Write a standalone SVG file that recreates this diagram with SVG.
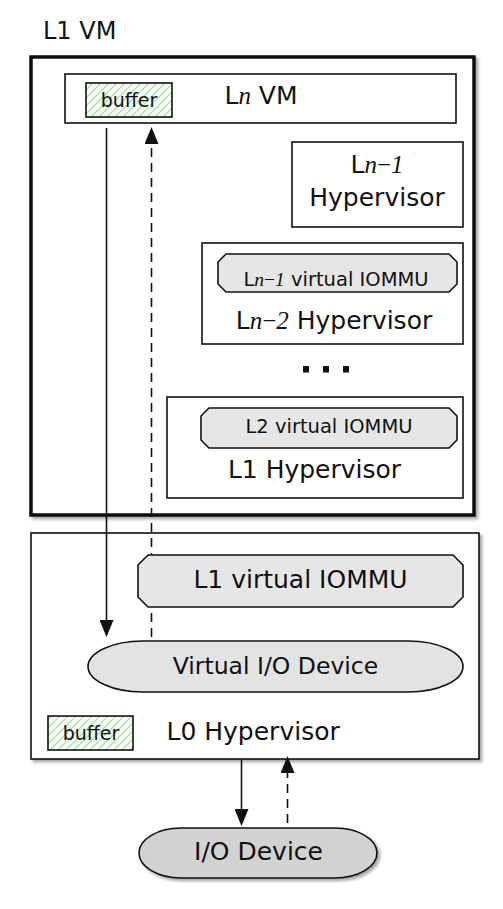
<svg xmlns="http://www.w3.org/2000/svg" width="503" height="909" viewBox="0 0 503 909">
<defs>
<style>
text{font-family:"DejaVu Sans","Liberation Sans",sans-serif;fill:#111}
.lbl{font-size:25px}
.sm{font-size:19.5px}
.buf{font-size:19px}
.m{font-family:"Liberation Serif","DejaVu Serif",serif;font-style:italic}
.box{fill:#fff;stroke:#111;stroke-width:1.6}
.oct{fill:#e6e6e6;stroke:#111;stroke-width:1.6}
.cn{stroke:#111;stroke-width:1.6;fill:none}
.dash{stroke-dasharray:9 6}
.hatch{fill:url(#hatch);stroke:#111;stroke-width:1.6}
</style>
<pattern id="hatch" patternUnits="userSpaceOnUse" width="8" height="8">
<rect width="8" height="8" fill="#f7fcf7"/>
<path d="M-2,2 L2,-2 M0,8 L8,0 M6,10 L10,6" stroke="#9fdc9f" stroke-width="1.2"/>
</pattern>
<filter id="sh" x="-5%" y="-5%" width="115%" height="115%">
<feDropShadow dx="2.5" dy="2.5" stdDeviation="1.6" flood-color="#000" flood-opacity="0.35"/>
</filter>
<marker id="ah" markerUnits="userSpaceOnUse" markerWidth="18" markerHeight="14" refX="13" refY="7" orient="auto">
<path d="M0,0 L17,7 L0,14 Z" fill="#111"/>
</marker>
</defs>
<rect width="503" height="909" fill="#fff"/>

<g id="l1vm">
<text class="lbl" x="43" y="39" style="font-size:24px">L1 VM</text>
<rect x="31" y="57" width="443" height="458" fill="#fff" stroke="#111" stroke-width="3.5" filter="url(#sh)"/>
</g>

<g id="lnvm">
<rect class="box" x="65" y="74" width="391" height="49"/>
<text class="lbl" x="261" y="103.5" text-anchor="middle">L<tspan class="m">n</tspan> VM</text>
</g>

<g id="buffer-top">
<rect class="hatch" x="86" y="83" width="86" height="34"/>
<text class="buf" x="129" y="107" text-anchor="middle">buffer</text>
</g>

<g id="ln1-hyp">
<rect class="box" x="292" y="142" width="171" height="85"/>
<text class="lbl" x="377" y="173" text-anchor="middle">L<tspan class="m">n</tspan><tspan class="m" style="font-style:normal">−</tspan><tspan class="m">1</tspan></text>
<text class="lbl" x="377" y="206" text-anchor="middle">Hypervisor</text>
</g>

<g id="ln2-hyp">
<rect class="box" x="202" y="243" width="261" height="101"/>
<text class="lbl" x="334" y="329" text-anchor="middle">L<tspan class="m">n</tspan><tspan class="m" style="font-style:normal">−</tspan><tspan class="m">2</tspan> Hypervisor</text>
</g>

<g id="ln1-viommu">
<path class="oct" d="M226,254 H449 L457,262 V284 L449,292 H226 L218,284 V262 Z"/>
<text class="sm" x="336" y="285.5" text-anchor="middle">L<tspan class="m">n</tspan><tspan class="m" style="font-style:normal">−</tspan><tspan class="m">1</tspan> virtual IOMMU</text>
</g>

<g id="dots">
<rect x="303" y="366" width="6" height="6.5" fill="#111"/>
<rect x="323" y="366" width="6" height="6.5" fill="#111"/>
<rect x="343" y="366" width="6" height="6.5" fill="#111"/>
</g>

<g id="l1-hyp">
<rect class="box" x="167" y="397" width="296" height="101"/>
<text class="lbl" x="314.5" y="478" text-anchor="middle">L1 Hypervisor</text>
</g>

<g id="l2-viommu">
<path class="oct" d="M209,408 H449 L457,416 V440 L449,448 H209 L201,440 V416 Z"/>
<text class="sm" x="329" y="433" text-anchor="middle">L2 virtual IOMMU</text>
</g>

<g id="l0-hyp">
<rect class="box" x="31" y="533" width="448" height="226" filter="url(#sh)"/>
<text class="lbl" x="166.5" y="740">L0 Hypervisor</text>
</g>

<g id="buffer-bottom">
<rect class="hatch" x="48" y="716" width="85" height="34"/>
<text class="buf" x="91" y="740" text-anchor="middle">buffer</text>
</g>

<g id="connectors">
<line class="cn" x1="106.5" y1="128" x2="106.5" y2="633" marker-end="url(#ah)"/>
<line class="cn dash" x1="151.5" y1="637" x2="151.5" y2="131" marker-end="url(#ah)"/>
<line class="cn" x1="241.5" y1="760" x2="241.5" y2="822" marker-end="url(#ah)"/>
<line class="cn dash" x1="287.5" y1="823" x2="287.5" y2="760" marker-end="url(#ah)"/>
</g>

<g id="l1-viommu">
<path class="oct" d="M148,555 H453 L463,565 V597 L453,607 H148 L138,597 V565 Z"/>
<text class="lbl" x="300.5" y="588" text-anchor="middle">L1 virtual IOMMU</text>
</g>

<g id="virtual-io-device">
<rect x="88" y="641" width="375" height="51" rx="55" ry="25.5" fill="#e3e3e3" stroke="#111" stroke-width="1.6"/>
<text class="lbl" x="275.5" y="673.5" text-anchor="middle" style="font-size:23.5px">Virtual I/O Device</text>
</g>

<g id="io-device">
<rect x="139" y="828" width="238" height="50" rx="42" ry="25" fill="#d2d2d2" stroke="#111" stroke-width="1.6" filter="url(#sh)"/>
<text class="lbl" x="258.5" y="860" text-anchor="middle">I/O Device</text>
</g>
</svg>
